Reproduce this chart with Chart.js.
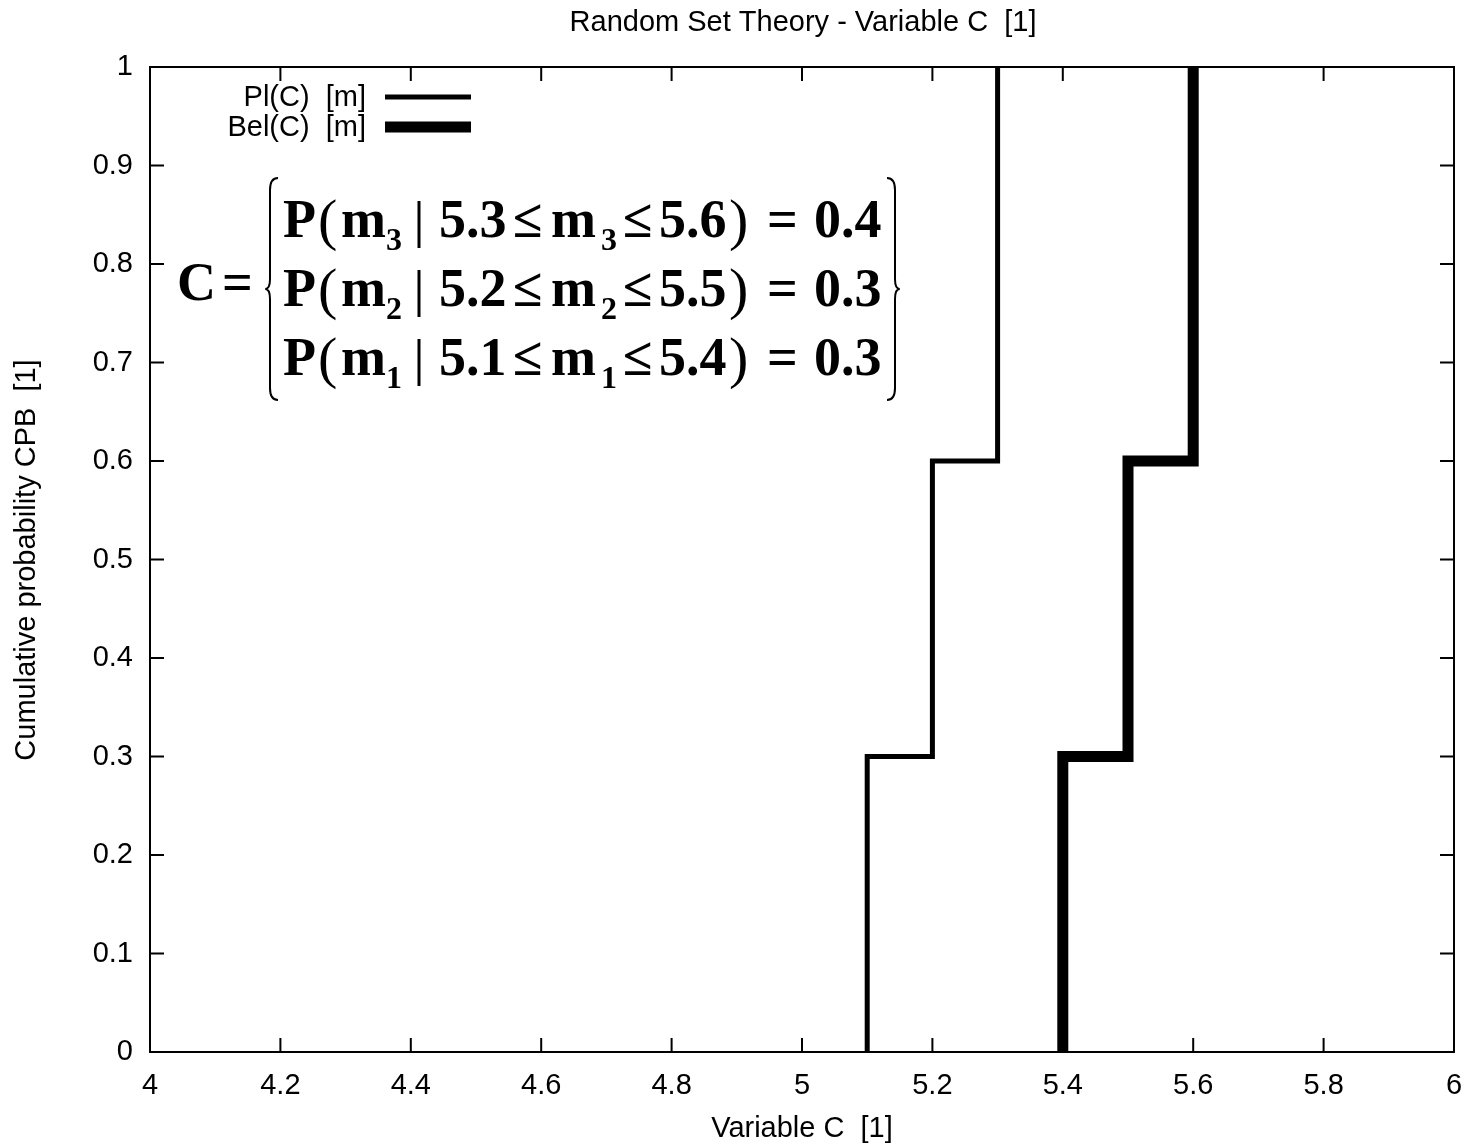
<!DOCTYPE HTML><html>
<head>
  <meta charset="utf-8">
  <script src="https://cdn.jsdelivr.net/npm/chart.js"></script>
  <style>
    html, body { margin: 0; padding: 0; background: #fff; }
    #wrap { width: 1474px; height: 1147px; position: relative; }
  </style>
</head>
<body>
<div id="wrap"><canvas id="rstChart" width="1474" height="1147"></canvas></div>
<script>
  // step curves
  const plX = [5.1, 5.1, 5.2, 5.2, 5.3, 5.3];
  const plY = [0, 0.3, 0.3, 0.6, 0.6, 1];
  const belX = [5.4, 5.4, 5.5, 5.5, 5.6, 5.6];
  const belY = [0, 0.3, 0.3, 0.6, 0.6, 1];
  const xTicks = [4, 4.2, 4.4, 4.6, 4.8, 5, 5.2, 5.4, 5.6, 5.8, 6];
  const yTicks = [0, 0.1, 0.2, 0.3, 0.4, 0.5, 0.6, 0.7, 0.8, 0.9, 1];
  const legendLabels = ['Pl(C)  [m]', 'Bel(C)  [m]'];
  const formulaRows = [
    ['3', '5.3', '5.6', '0.4'],
    ['2', '5.2', '5.5', '0.3'],
    ['1', '5.1', '5.4', '0.3']
  ];

  const sans = '"Liberation Sans", Arial, sans-serif';
  const serif = '"Liberation Serif", "DejaVu Serif", serif';
  const labelSize = 29;

  function toPoints(xs, ys) {
    return xs.map((x, i) => ({ x: x, y: ys[i] }));
  }

  // gnuplot-like frame, inward ticks, title, axis titles, legend and formula
  const decorations = {
    id: 'decorations',
    afterDraw(chart) {
      const ctx = chart.ctx;
      const a = chart.chartArea;
      const xs = chart.scales.x, ys = chart.scales.y;
      ctx.save();
      ctx.strokeStyle = '#000';
      ctx.lineWidth = 2;
      ctx.strokeRect(a.left, a.top, a.right - a.left, a.bottom - a.top);
      ctx.beginPath();
      xTicks.forEach(v => {
        const px = xs.getPixelForValue(v);
        ctx.moveTo(px, a.bottom); ctx.lineTo(px, a.bottom - 14);
        ctx.moveTo(px, a.top); ctx.lineTo(px, a.top + 14);
      });
      yTicks.forEach(v => {
        const py = ys.getPixelForValue(v);
        ctx.moveTo(a.left, py); ctx.lineTo(a.left + 14, py);
        ctx.moveTo(a.right, py); ctx.lineTo(a.right - 14, py);
      });
      ctx.stroke();

      ctx.fillStyle = '#000';
      ctx.font = labelSize + 'px ' + sans;
      ctx.textAlign = 'center';
      ctx.textBaseline = 'middle';
      ctx.fillText('Random Set Theory - Variable C  [1]', 803, 23);
      ctx.fillText('Variable C  [1]', 802, 1129);
      ctx.save();
      ctx.translate(27, 560);
      ctx.rotate(-Math.PI / 2);
      ctx.fillText('Cumulative probability CPB  [1]', 0, 0);
      ctx.restore();

      // legend
      ctx.textAlign = 'right';
      ctx.fillText(legendLabels[0], 366, 98);
      ctx.fillText(legendLabels[1], 366, 128);
      ctx.lineCap = 'butt';
      ctx.lineWidth = 5;
      ctx.beginPath(); ctx.moveTo(385, 97); ctx.lineTo(471, 97); ctx.stroke();
      ctx.lineWidth = 11;
      ctx.beginPath(); ctx.moveTo(385, 127); ctx.lineTo(471, 127); ctx.stroke();

      drawFormula(ctx);
      ctx.restore();
    }
  };

  function drawFormula(ctx) {
    ctx.textAlign = 'left';
    ctx.textBaseline = 'alphabetic';
    const big = 'bold 54px ' + serif;
    const sub = 'bold 32px ' + serif;
    const thin = '58px ' + serif;
    ctx.font = big;
    ctx.fillText('C', 177, 300);
    ctx.fillText('=', 222, 300);

    ctx.lineWidth = 2;
    drawBrace(ctx, 270, 178, 400, -1);
    drawBrace(ctx, 895, 178, 400, 1);

    const baselines = [237, 306, 375];
    formulaRows.forEach((r, i) => {
      const b = baselines[i];
      const pieces = [
        [big, 'P', 283, 0], [thin, '(', 318, 2], [big, 'm', 341, 0],
        [sub, r[0], 386, 13], [big, r[1], 439, 0], [big, '≤', 513, 0],
        [big, 'm', 551, 0], [sub, r[0], 601, 13], [big, '≤', 623, 0],
        [big, r[2], 659, 0], [thin, ')', 729, 2], [big, '=', 767, 0],
        [big, r[3], 814, 0]
      ];
      pieces.forEach(p => {
        ctx.font = p[0];
        ctx.fillText(p[1], p[2], b + p[3]);
      });
      ctx.lineWidth = 3;
      ctx.beginPath();
      ctx.moveTo(419, b - 36); ctx.lineTo(419, b + 11);
      ctx.stroke();
    });
  }

  function drawBrace(ctx, x, y0, y1, dir) {
    const mid = (y0 + y1) / 2;
    const d = 8 * dir;
    ctx.beginPath();
    ctx.moveTo(x - d, y0);
    ctx.quadraticCurveTo(x, y0, x, y0 + 12);
    ctx.lineTo(x, mid - 10);
    ctx.quadraticCurveTo(x, mid, x + d * 0.6, mid);
    ctx.quadraticCurveTo(x, mid, x, mid + 10);
    ctx.lineTo(x, y1 - 12);
    ctx.quadraticCurveTo(x, y1, x - d, y1);
    ctx.stroke();
  }

  const ctx = document.getElementById('rstChart').getContext('2d');
  const rstChart = new Chart(ctx, {
    type: 'line',
    data: {
      datasets: [{
        label: legendLabels[0],
        data: toPoints(plX, plY),
        borderColor: '#000',
        borderWidth: 5,
        pointRadius: 0,
        borderJoinStyle: 'miter',
        borderCapStyle: 'butt',
        fill: false
      }, {
        label: legendLabels[1],
        data: toPoints(belX, belY),
        borderColor: '#000',
        borderWidth: 11,
        pointRadius: 0,
        borderJoinStyle: 'miter',
        borderCapStyle: 'butt',
        fill: false
      }]
    },
    options: {
      responsive: false,
      animation: false,
      layout: { padding: { top: 67, right: 20, left: 0, bottom: 0 } },
      plugins: { legend: { display: false }, tooltip: { enabled: false } },
      scales: {
        x: {
          type: 'linear', min: 4, max: 6,
          afterFit(scale) {
            scale.height = 95;
            scale.paddingLeft = 0;
            scale.paddingRight = 0;
          },
          afterBuildTicks(scale) { scale.ticks = xTicks.map(v => ({ value: v })); },
          grid: { display: false, drawTicks: false },
          border: { display: false },
          ticks: {
            padding: 17, color: '#000',
            font: { family: sans, size: labelSize },
            callback: v => String(v)
          }
        },
        y: {
          type: 'linear', min: 0, max: 1,
          afterFit(scale) {
            scale.width = 150;
            scale.paddingTop = 0;
            scale.paddingBottom = 0;
          },
          afterBuildTicks(scale) { scale.ticks = yTicks.map(v => ({ value: v })); },
          grid: { display: false, drawTicks: false },
          border: { display: false },
          ticks: {
            padding: 17, color: '#000',
            font: { family: sans, size: labelSize },
            callback: v => String(v)
          }
        }
      }
    },
    plugins: [decorations]
  });
</script>
</body>
</html>
